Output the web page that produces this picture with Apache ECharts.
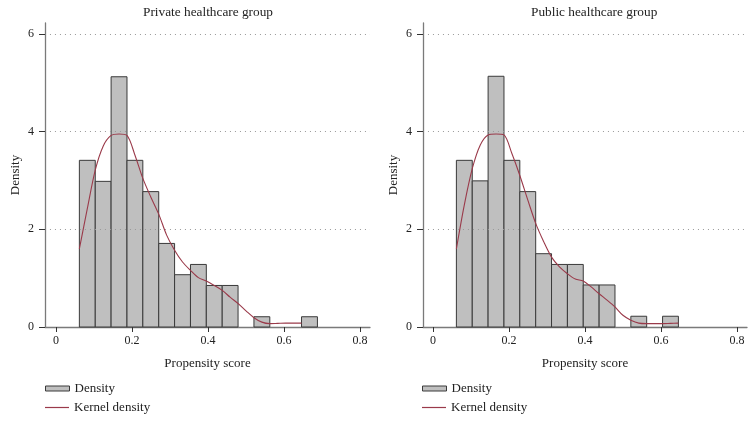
<!DOCTYPE html>
<html><head><meta charset="utf-8">
<script src="https://cdn.jsdelivr.net/npm/echarts@6/dist/echarts.min.js"></script>
<style>html,body{margin:0;padding:0;background:#fff}#c{width:755px;height:423px}</style>
</head><body><div id="c"></div>
<script>
// Histogram bin edges (propensity score)
const binEdges = [0.0614, 0.1032, 0.1449, 0.1867, 0.2284, 0.2702, 0.3119, 0.3537, 0.3954, 0.4372, 0.4789, 0.5207, 0.5624, 0.6042, 0.6459, 0.6877];
// Density per bin
const privateDensity = [3.41, 2.98, 5.12, 3.41, 2.77, 1.71, 1.07, 1.28, 0.85, 0.85, 0, 0.21, 0, 0, 0.21];
const publicDensity  = [3.41, 2.99, 5.13, 3.41, 2.77, 1.50, 1.28, 1.28, 0.86, 0.86, 0, 0.22, 0, 0.22];
// Kernel density curves
const kernelX = [0.0614, 0.0823, 0.1032, 0.1240, 0.1449, 0.1658, 0.1867, 0.2075, 0.2284, 0.2493, 0.2702, 0.2910, 0.3119, 0.3328, 0.3537, 0.3745, 0.3954, 0.4163, 0.4372, 0.4580, 0.4789, 0.4998, 0.5207, 0.5415, 0.5624, 0.5833, 0.6042, 0.6250, 0.6459];
const privateKernel = [1.60, 2.42, 3.21, 3.70, 3.92, 3.95, 3.92, 3.52, 3.04, 2.66, 2.31, 1.88, 1.57, 1.33, 1.16, 1.01, 0.94, 0.85, 0.75, 0.61, 0.48, 0.33, 0.19, 0.10, 0.07, 0.075, 0.08, 0.08, 0.08];
const publicKernel  = [1.60, 2.50, 3.24, 3.72, 3.93, 3.95, 3.93, 3.55, 3.10, 2.60, 2.12, 1.75, 1.43, 1.23, 1.09, 0.98, 0.94, 0.82, 0.68, 0.55, 0.41, 0.24, 0.14, 0.08, 0.07, 0.07, 0.07, 0.075, 0.08];
const xTicks = [0, 0.2, 0.4, 0.6, 0.8];
const yTicks = [0, 2, 4, 6];
const titles = ['Private healthcare group', 'Public healthcare group'];

const FONT = 'Liberation Serif';
const AXIS = '#7a7a7a';
const BAR_FILL = '#bfbfbf';
const BAR_EDGE = '#3a3a3a';
const LINE = '#9a3a4a';

function histData(d) {
  return d.map((v, i) => [binEdges[i], binEdges[i + 1], v]);
}
function kernelData(k) {
  return k.map((v, i) => [kernelX[i], v]);
}

const grids = [
  {left: 45, right: 385, top: 23, bottom: 96},
  {left: 423, right: 8, top: 23, bottom: 96}
];
const xRanges = [[-0.029, 0.826], [-0.0265, 0.8265]];
const titleLeft = [143, 531];
const legendLeft = [45, 422];

const legends = [];
[0, 1].forEach(i => {
  legends.push({left: legendLeft[i], top: 382, itemWidth: 24, itemHeight: 5,
    data: [{name: 'Density', icon: 'rect', itemStyle: {color: BAR_FILL, borderColor: BAR_EDGE, borderWidth: 1}}]});
  legends.push({left: legendLeft[i], top: 401, itemWidth: 24, itemHeight: 1.2,
    data: [{name: 'Kernel density', icon: 'rect', itemStyle: {color: LINE, borderWidth: 0}}]});
});

const option = {
  animation: false,
  textStyle: {fontFamily: FONT},
  title: titles.map((t, i) => ({
    text: t,
    left: titleLeft[i],
    top: 6,
    padding: 0,
    textStyle: {fontFamily: FONT, fontSize: 13.3, fontWeight: 'normal', color: '#222'}
  })),
  grid: grids,
  xAxis: [0, 1].map(i => ({
    type: 'value', gridIndex: i, min: xRanges[i][0], max: xRanges[i][1],
    name: 'Propensity score', nameLocation: 'middle', nameGap: 30,
    nameTextStyle: {fontFamily: FONT, fontSize: 13, color: '#222'},
    axisLine: {show: true, lineStyle: {color: AXIS, width: 1.3}},
    axisTick: {show: true, length: 5, lineStyle: {color: '#333'}, customValues: xTicks},
    axisLabel: {fontFamily: FONT, fontSize: 12, color: '#222', margin: 8, customValues: xTicks,
                formatter: v => String(v)},
    splitLine: {show: false}
  })),
  yAxis: [0, 1].map(i => ({
    type: 'value', gridIndex: i, min: 0, max: 6.22,
    name: 'Density', nameLocation: 'middle', nameGap: 23, nameRotate: 90,
    nameTextStyle: {fontFamily: FONT, fontSize: 13, color: '#222'},
    axisLine: {show: true, onZero: false, lineStyle: {color: AXIS, width: 1.3}},
    axisTick: {show: true, length: 6, lineStyle: {color: '#333'}, customValues: yTicks},
    axisLabel: {fontFamily: FONT, fontSize: 12, color: '#222', margin: 11, customValues: yTicks},
    splitLine: {show: false}
  })),
  legend: legends.map(l => Object.assign({
    orient: 'vertical', itemGap: 6, selectedMode: false, padding: 0,
    textStyle: {fontFamily: FONT, fontSize: 13, color: '#222'}
  }, l)),
  series: []
};

const dens = [privateDensity, publicDensity];
const kern = [privateKernel, publicKernel];
[0, 1].forEach(i => {
  // dotted grid lines at 2,4,6
  option.series.push({
    type: 'line', xAxisIndex: i, yAxisIndex: i, data: [], silent: true,
    markLine: {
      silent: true, symbol: 'none', label: {show: false},
      lineStyle: {color: '#999', type: [1, 4], width: 1},
      data: yTicks.filter(v => v > 0).map(v => [
        {coord: [xRanges[i][0] + 0.013, v]}, {coord: [xRanges[i][1], v]}
      ])
    }
  });
  option.series.push({
    name: 'Density', type: 'custom', xAxisIndex: i, yAxisIndex: i,
    itemStyle: {color: BAR_FILL, borderColor: BAR_EDGE, borderWidth: 1},
    data: histData(dens[i]).filter(d => d[2] > 0),
    encode: {x: [0, 1], y: 2},
    renderItem: function (params, api) {
      const p0 = api.coord([api.value(0), 0]);
      const p1 = api.coord([api.value(1), api.value(2)]);
      return {
        type: 'rect',
        shape: {x: p0[0], y: p1[1], width: p1[0] - p0[0], height: p0[1] - p1[1]},
        style: {fill: BAR_FILL, stroke: BAR_EDGE, lineWidth: 1}
      };
    }
  });
  option.series.push({
    name: 'Kernel density', type: 'line', xAxisIndex: i, yAxisIndex: i,
    data: kernelData(kern[i]), smooth: 0.3, symbol: 'none', showSymbol: false,
    lineStyle: {color: LINE, width: 1.1}, itemStyle: {color: LINE}, z: 5
  });
});

const chart = echarts.init(document.getElementById('c'), null, {renderer: 'canvas'});
chart.setOption(option);
</script>
</body></html>
